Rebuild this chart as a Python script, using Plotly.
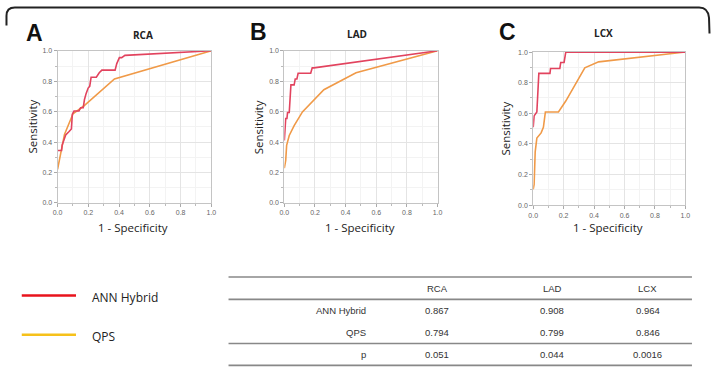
import plotly.graph_objects as go

W, H = 715, 372

# ---------------- data ----------------
rca_ann_x = [0, 0.026, 0.03, 0.047, 0.053, 0.075, 0.09, 0.096, 0.107, 0.139, 0.15, 0.167, 0.175, 0.186, 0.199, 0.209, 0.218, 0.252, 0.271, 0.288, 0.374, 0.385, 0.402, 0.417, 0.438, 1.0]
rca_ann_y = [0.344, 0.344, 0.38, 0.43, 0.447, 0.469, 0.486, 0.583, 0.604, 0.604, 0.626, 0.626, 0.68, 0.72, 0.755, 0.766, 0.826, 0.826, 0.856, 0.873, 0.873, 0.916, 0.955, 0.955, 0.97, 1.0]
rca_qps_x = [0, 0.02, 0.045, 0.1, 0.17, 0.37, 1.0]
rca_qps_y = [0.22, 0.33, 0.45, 0.585, 0.637, 0.815, 1.0]

lad_ann_x = [0, 0.004, 0.009, 0.017, 0.021, 0.032, 0.043, 0.064, 0.071, 0.082, 0.09, 0.172, 0.182, 0.193, 1.0]
lad_ann_y = [0.41, 0.51, 0.555, 0.555, 0.594, 0.594, 0.776, 0.776, 0.815, 0.815, 0.852, 0.852, 0.888, 0.888, 1.0]
lad_qps_x = [0, 0.009, 0.015, 0.032, 0.064, 0.118, 0.258, 0.468, 1.0]
lad_qps_y = [0.228, 0.28, 0.378, 0.443, 0.508, 0.598, 0.744, 0.856, 1.0]

lcx_ann_x = [0, 0.006, 0.024, 0.03, 0.037, 0.11, 0.114, 0.175, 0.181, 0.203, 0.214, 1.0]
lcx_ann_y = [0.509, 0.583, 0.609, 0.786, 0.861, 0.861, 0.893, 0.893, 0.932, 0.932, 1.0, 1.0]
lcx_qps_x = [0, 0.006, 0.013, 0.024, 0.052, 0.067, 0.08, 0.166, 0.214, 0.339, 0.43, 1.0]
lcx_qps_y = [0.103, 0.135, 0.348, 0.438, 0.472, 0.509, 0.609, 0.609, 0.68, 0.897, 0.936, 1.0]

panel_letters = ["A", "B", "C"]
panel_titles = ["RCA", "LAD", "LCX"]
series_names = ["ANN Hybrid", "QPS"]

table_cols = ["RCA", "LAD", "LCX"]
table_rows = ["ANN Hybrid", "QPS", "p"]
table_vals = [["0.867", "0.908", "0.964"],
              ["0.794", "0.799", "0.846"],
              ["0.051", "0.044", "0.0016"]]

curve_colors = ["#e2435e", "#f09a48"]
legend_colors = ["#e8131c", "#f6c11a"]

# ---------------- layout helpers ----------------
def px(x):
    return x / W

def py(y):
    return 1 - y / H

# plot areas in pixels: (left, right, top, bottom)
areas = [(53.3, 209.3, 47.7, 202.7),
         (283.3, 438.7, 47.7, 202.7),
         (535.7, 690.0, 49.0, 205.0)]

fig = go.Figure()

curves = [((rca_ann_x, rca_ann_y), (rca_qps_x, rca_qps_y)),
          ((lad_ann_x, lad_ann_y), (lad_qps_x, lad_qps_y)),
          ((lcx_ann_x, lcx_ann_y), (lcx_qps_x, lcx_qps_y))]

layout = dict(
    width=W, height=H,
    margin=dict(l=0, r=0, t=0, b=0),
    paper_bgcolor="white", plot_bgcolor="white",
    showlegend=False,
)

annotations = []
shapes = []

for i, (area, (ann, qps)) in enumerate(zip(areas, curves)):
    l, r, t, b = area
    sfx = "" if i == 0 else str(i + 1)
    xa, ya = "x" + sfx, "y" + sfx
    # QPS first so ANN sits on top
    fig.add_trace(go.Scatter(x=qps[0], y=qps[1], mode="lines", name=series_names[1],
                             line=dict(color=curve_colors[1], width=1.6),
                             xaxis=xa, yaxis=ya, hoverinfo="skip"))
    fig.add_trace(go.Scatter(x=ann[0], y=ann[1], mode="lines", name=series_names[0],
                             line=dict(color=curve_colors[0], width=1.6),
                             xaxis=xa, yaxis=ya, hoverinfo="skip"))
    axcommon = dict(
        range=[0, 1], tickvals=[0, 0.2, 0.4, 0.6, 0.8, 1.0],
        ticktext=["0.0", "0.2", "0.4", "0.6", "0.8", "1.0"],
        showgrid=True, gridcolor="#e4e4e4", gridwidth=1,
        showline=True, linecolor="#c4c4c4", linewidth=1, mirror=True,
        ticks="outside", ticklen=3, tickcolor="#aaaaaa",
        tickfont=dict(family="Liberation Sans, Arial", size=7, color="#666666"),
        zeroline=False, fixedrange=True,
        minor=dict(dtick=0.1, ticks="outside", ticklen=2, tickcolor="#bbbbbb",
                   showgrid=True, gridcolor="#f3f3f3"),
    )
    layout["xaxis" + sfx] = dict(axcommon, domain=[px(l), px(r)], anchor=ya)
    layout["yaxis" + sfx] = dict(axcommon, domain=[py(b), py(t)], anchor=xa)

# panel letters, titles, axis titles
letter_pos = [(30, 30), (257, 29), (510, 29)]
title_pos = [(140, 32), (357, 31), (607, 30)]
ytitle_x = [28, 257, 508]
xtitle_cx = [130, 360, 612]
for i in range(3):
    l, r, t, b = areas[i]
    annotations.append(dict(text="<b>" + panel_letters[i] + "</b>", x=px(letter_pos[i][0]), y=py(letter_pos[i][1]),
                            xref="paper", yref="paper", showarrow=False,
                            font=dict(family="Liberation Sans, Arial", size=23, color="#111111"),
                            xanchor="center", yanchor="middle"))
    annotations.append(dict(text="<b>" + panel_titles[i] + "</b>", x=px(title_pos[i][0]), y=py(title_pos[i][1]),
                            xref="paper", yref="paper", showarrow=False,
                            font=dict(family="Open Sans, Arial", size=10, color="#222222"),
                            xanchor="center", yanchor="middle"))
    annotations.append(dict(text="Sensitivity", x=px(ytitle_x[i]), y=py((t + b) / 2),
                            xref="paper", yref="paper", showarrow=False, textangle=-90,
                            font=dict(family="Open Sans, Arial", size=11.5, color="#222222"),
                            xanchor="center", yanchor="middle"))
    annotations.append(dict(text="1 - Specificity", x=px(xtitle_cx[i]), y=py(228),
                            xref="paper", yref="paper", showarrow=False,
                            font=dict(family="Open Sans, Arial", size=11.5, color="#222222"),
                            xanchor="center", yanchor="middle"))

# legend (drawn manually)
leg_y = [297, 337]
for k in range(2):
    shapes.append(dict(type="line", xref="paper", yref="paper",
                       x0=px(17), x1=px(72), y0=py(leg_y[k]), y1=py(leg_y[k]),
                       line=dict(color=legend_colors[k], width=2.5)))
    annotations.append(dict(text=series_names[k], x=px(86), y=py(leg_y[k] + 2),
                            xref="paper", yref="paper", showarrow=False,
                            font=dict(family="Open Sans, Arial", size=12, color="#222222"),
                            xanchor="left", yanchor="middle"))

# table
tl, tr = 226.7, 696.7
hlines = [278.3, 301, 346, 368.3]
for yy in hlines:
    shapes.append(dict(type="line", xref="paper", yref="paper",
                       x0=px(tl), x1=px(tr), y0=py(yy), y1=py(yy),
                       line=dict(color="#888888", width=1.6)))
col_x = [438.3, 555, 651.7]
row_y = [312.3, 335, 357.7]
header_y = 290
tfont = dict(family="Liberation Sans, Arial", size=9.5, color="#333333")
for j, c in enumerate(table_cols):
    annotations.append(dict(text=c, x=px(col_x[j]), y=py(header_y), xref="paper", yref="paper",
                            showarrow=False, font=tfont, xanchor="center", yanchor="middle"))
for i, rname in enumerate(table_rows):
    annotations.append(dict(text=rname, x=px(368.5), y=py(row_y[i]), xref="paper", yref="paper",
                            showarrow=False, font=tfont, xanchor="right", yanchor="middle"))
    for j in range(3):
        annotations.append(dict(text=table_vals[i][j], x=px(col_x[j]), y=py(row_y[i]),
                                xref="paper", yref="paper", showarrow=False, font=tfont,
                                xanchor="center", yanchor="middle"))

# rounded outer frame (top part only visible)
def P(x, y):
    return f"{px(x):.5f},{py(y):.5f}"

frame_path = ("M " + P(1.5, 22) + " L " + P(1.5, 12) + " Q " + P(1.5, 3.5) + " " + P(10, 3.5) +
              " L " + P(704, 3.5) + " Q " + P(713, 3.5) + " " + P(714, 14) + " L " + P(714.5, 30))
shapes.append(dict(type="path", xref="paper", yref="paper", path=frame_path,
                   line=dict(color="#222222", width=2)))

layout["annotations"] = annotations
layout["shapes"] = shapes
fig.update_layout(**layout)

fig.write_html("out.html")
